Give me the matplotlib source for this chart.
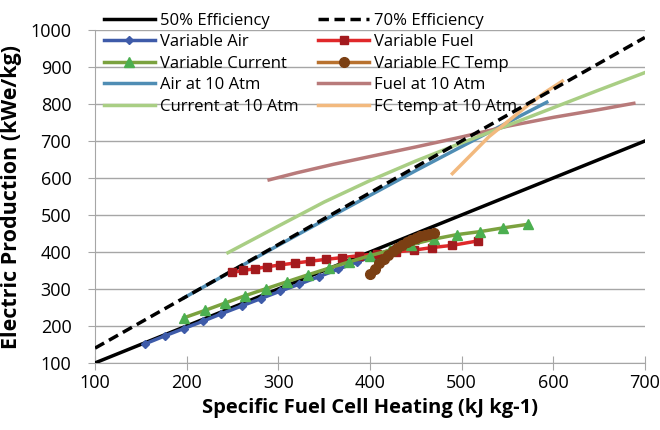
import matplotlib
matplotlib.use("Agg")
import matplotlib.pyplot as plt
import numpy as np

plt.rcParams['font.family'] = ['Open Sans', 'DejaVu Sans']

eff_x = [100, 700]
eff50_y = [100, 700]
eff70_y = [140, 980]

air_x = [155, 176, 197, 218, 238, 260, 281, 302, 323, 344, 365, 386, 406, 425, 440, 452, 460, 465, 468]
air_y = [152, 173, 193, 213, 233, 254, 274, 294, 313, 333, 353, 373, 391, 408, 420, 432, 440, 445, 448]

fuel_x = [250, 262, 275, 288, 302, 318, 335, 352, 370, 388, 408, 428, 448, 468, 490, 518]
fuel_y = [345, 350, 355, 360, 365, 370, 375, 380, 385, 390, 395, 400, 405, 412, 418, 430]

cur_x = [197, 220, 242, 264, 287, 310, 332, 355, 377, 400, 422, 445, 470, 495, 520, 545, 573]
cur_y = [222, 242, 262, 282, 301, 320, 338, 356, 373, 390, 405, 420, 435, 447, 455, 465, 475]

fct_x = [400, 405, 410, 415, 420, 425, 430, 435, 440, 445, 450, 455, 460, 465, 470]
fct_y = [340, 355, 370, 382, 393, 403, 412, 420, 427, 433, 438, 442, 446, 449, 450]

air10_x = [197, 250, 300, 350, 400, 450, 500, 550, 593]
air10_y = [276, 349, 418, 486, 553, 620, 685, 750, 805]

fuel10_x = [290, 320, 360, 400, 450, 500, 550, 600, 650, 688]
fuel10_y = [595, 614, 637, 658, 684, 711, 740, 764, 785, 802]

cur10_x = [245, 300, 350, 400, 450, 500, 550, 600, 650, 700]
cur10_y = [398, 470, 535, 593, 646, 695, 742, 790, 838, 885]

fct10_x = [490, 510, 530, 550, 570, 590, 610]
fct10_y = [612, 662, 712, 752, 792, 830, 862]

fig = plt.figure(figsize=(6.6, 4.3), dpi=100)
ax = fig.add_axes([0.144, 0.156, 0.833, 0.774])

h50, = ax.plot(eff_x, eff50_y, color='black', lw=2.5, label='50% Efficiency', zorder=3)
h70, = ax.plot(eff_x, eff70_y, color='black', lw=2.5, ls=(0, (3, 1.6)), label='70% Efficiency', zorder=3)
hair, = ax.plot(air_x, air_y, color='#3E5BA9', lw=2.5, marker='D', ms=4, mfc='#3E5BA9', mec='#3E5BA9', label='Variable Air', zorder=4)
hfuel, = ax.plot(fuel_x, fuel_y, color='#E0282A', lw=2.5, marker='s', ms=6, mfc='#A31A1E', mec='#A31A1E', label='Variable Fuel', zorder=4)
hcur, = ax.plot(cur_x, cur_y, color='#7BA23F', lw=2.5, marker='^', ms=7, mfc='#4CAF50', mec='#4CAF50', label='Variable Current', zorder=4)
hfct, = ax.plot(fct_x, fct_y, color='#B8712E', lw=2.5, marker='o', ms=7, mfc='#7B3F13', mec='#7B3F13', label='Variable FC Temp', zorder=4)
hair10, = ax.plot(air10_x, air10_y, color='#4F8DB4', lw=2.5, label='Air at 10 Atm', zorder=2)
hfuel10, = ax.plot(fuel10_x, fuel10_y, color='#B87A7A', lw=2.5, label='Fuel at 10 Atm', zorder=2)
hcur10, = ax.plot(cur10_x, cur10_y, color='#A9CE84', lw=2.5, label='Current at 10 Atm', zorder=2)
hfct10, = ax.plot(fct10_x, fct10_y, color='#F2B97E', lw=2.5, label='FC temp at 10 Atm', zorder=2)

ax.set_xlim(100, 700)
ax.set_ylim(100, 1000)
ax.set_xticks(np.arange(100, 701, 100))
ax.set_yticks(np.arange(100, 1001, 100))
ax.yaxis.grid(True, color='#A6A6A6', lw=1)
ax.set_axisbelow(True)
for s in ['top', 'right']:
    ax.spines[s].set_visible(False)
for s in ['left', 'bottom']:
    ax.spines[s].set_color('#A6A6A6')
ax.tick_params(axis='x', direction='inout', length=10, color='#A6A6A6', labelsize=13, pad=3)
ax.tick_params(axis='y', direction='out', length=5, color='#A6A6A6', labelsize=13, pad=12)
ax.set_xlabel('Specific Fuel Cell Heating (kJ kg-1)', fontsize=14.5, fontweight='bold', labelpad=4)
ax.set_ylabel('Electric Production (kWe/kg)', fontsize=15.5, fontweight='bold')
ax.yaxis.set_label_coords(-0.133, 0.5)

handles = [h50, hair, hcur, hair10, hcur10, h70, hfuel, hfct, hfuel10, hfct10]
leg = ax.legend(handles=handles, ncol=2, loc='upper left', bbox_to_anchor=(0.016, 1.052),
                frameon=False, fontsize=12, handlelength=3.06, handletextpad=0.3,
                columnspacing=1.2, labelspacing=0.33, borderpad=0, borderaxespad=0)

fig.savefig('out.png', dpi=100)
